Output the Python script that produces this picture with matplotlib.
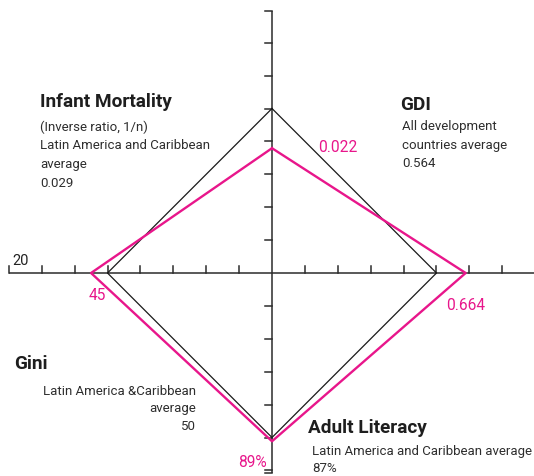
import numpy as np
import matplotlib

matplotlib.use("Agg")
import matplotlib.pyplot as plt  # noqa: E402

plt.rcParams["font.family"] = ["Roboto", "DejaVu Sans"]

# axes: top, right, bottom, left
axis_names = ["Infant Mortality", "GDI", "Adult Literacy", "Gini"]
region_avg = [0.029, 0.564, 87, 50]      # black diamond (reference averages)
country_val = [0.022, 0.664, 89, 45]     # pink diamond
country_labels = ["0.022", "0.664", "89%", "45"]
gini_end_label = "20"

PINK = "#e8168b"
W, H = 534, 476
CX, CY, U = 272, 273, 32.9   # centre in px, px per tick


def to_dist(i, v):
    # distance from centre in tick units, per axis
    if i == 0:
        return v / region_avg[0] * 5
    if i == 1:
        return v / region_avg[1] * 5
    if i == 2:
        return v / region_avg[2] * 5
    return 10 - v / 10  # Gini: 100 at centre, 20 at tick 8


DIRS = np.array([[0, 1], [1, 0], [0, -1], [-1, 0]])


def polygon(vals):
    pts = np.array([DIRS[i] * to_dist(i, v) for i, v in enumerate(vals)])
    return np.vstack([pts, pts[:1]])


fig = plt.figure(figsize=(W / 100, H / 100), dpi=100)
ax = fig.add_axes([0, 0, 1, 1])
ax.set_xlim(-CX / U, (W - CX) / U)
ax.set_ylim(-(H - CY) / U, CY / U)
ax.axis("off")

AX_C = "#2b2b2b"
xr = (W - CX) / U
ax.plot([-8, xr], [0, 0], color=AX_C, lw=1.1, solid_capstyle="butt")
ax.plot([0, 0], [-6.08, 7.95], color=AX_C, lw=1.1, solid_capstyle="butt")
for t in range(-8, 8):
    if t:
        ax.plot([t, t], [0, 0.2], color=AX_C, lw=1.1)
for t in list(range(-6, 0)) + list(range(1, 8)):
    ax.plot([-0.21, 0], [t, t], color=AX_C, lw=1.1)
ax.plot([-0.21, 0], [-6.08, -6.08], color=AX_C, lw=1.1)
ax.plot([-0.21, 0], [7.95, 7.95], color=AX_C, lw=1.1)

p = polygon(region_avg)
ax.plot(p[:, 0], p[:, 1], color="#1a1a1a", lw=0.9, zorder=3)
p = polygon(country_val)
ax.plot(p[:, 0], p[:, 1], color=PINK, lw=1.7, zorder=4)


def txt(x, y, s, **kw):
    kw.setdefault("va", "center")
    kw.setdefault("ha", "left")
    fig.text(x / W, 1 - y / H, s, **kw)


TITLE = dict(fontsize=13.7, fontweight="bold", color="#1e1e1e")
SUB = dict(fontsize=9.5, color="#2e2e2e")
PK = dict(fontsize=11.2, color=PINK)

txt(40, 102, axis_names[0], **TITLE)
for k, s in enumerate(["(Inverse ratio, 1/n)", "Latin America and Caribbean",
                       "average", "0.029"]):
    txt(40, 127 + k * 18.7, s, **SUB)

txt(400, 105, axis_names[1], **TITLE)
for k, s in enumerate(["All development", "countries average", "0.564"]):
    txt(402, 126.5 + k * 18.5, s, **SUB)

txt(308, 428, axis_names[2], **TITLE)
txt(312, 451, "Latin America and Caribbean average", **SUB)
txt(312, 468.5, "87%", **SUB)

txt(14, 364, axis_names[3], **TITLE)
for k, s in enumerate(["Latin America &Caribbean", "average", "50"]):
    txt(196, 391.5 + k * 17.3, s, ha="right", **SUB)

txt(318, 148, country_labels[0], **PK)
txt(446, 305, country_labels[1], **PK)
txt(267, 462.5, country_labels[2], ha="right", **PK)
txt(89, 295, country_labels[3], **PK)
txt(12, 261, gini_end_label, fontsize=10.5, color="#222222")

fig.savefig("out.png", dpi=100)
